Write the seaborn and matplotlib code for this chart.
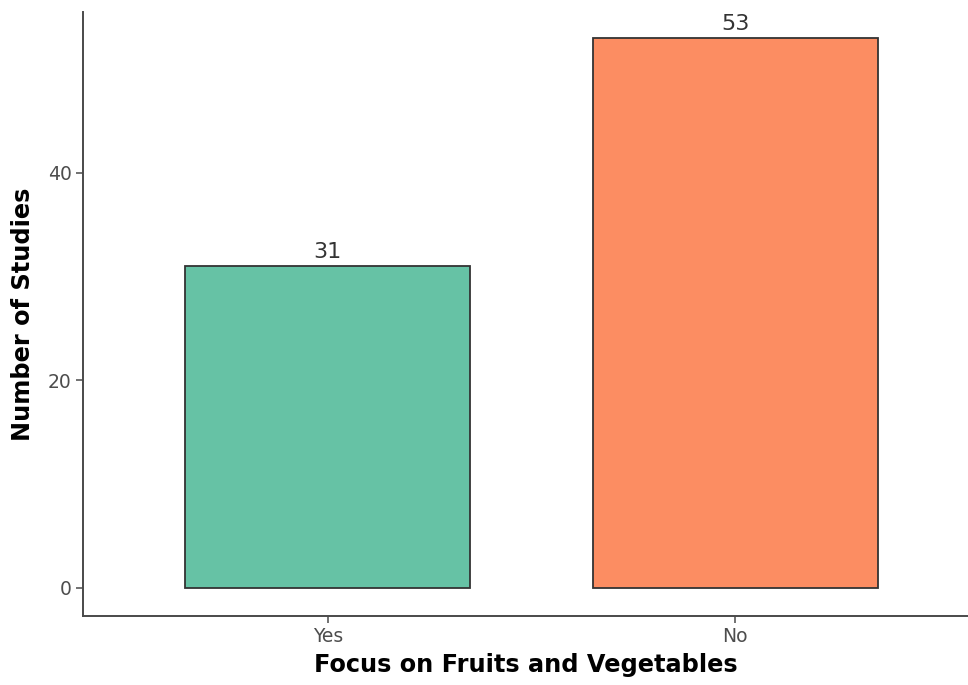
import matplotlib
matplotlib.use("Agg")
import matplotlib.pyplot as plt
import seaborn as sns
import pandas as pd

# Study counts by whether the intervention focused on fruits and vegetables
categories = ["Yes", "No"]
counts = [31, 53]
bar_colors = ["#66c2a5", "#fc8d62"]

df = pd.DataFrame({"focus": categories, "n": counts})

sns.set_theme(style="white")
plt.rcParams["font.family"] = ["DejaVu Sans"]

fig = plt.figure(figsize=(9.68, 6.85), dpi=100)
ax = fig.add_axes([0.0857, 0.1007, 0.9143, 0.8818])

sns.barplot(data=df, x="focus", y="n", hue="focus", palette=bar_colors,
            order=categories, width=0.7, edgecolor="#333333", linewidth=1.3,
            legend=False, ax=ax, saturation=1)

for i, v in enumerate(counts):
    ax.text(i, v + 0.4, str(v), ha="center", va="bottom", fontsize=16,
            color="#333333")

ax.set_xlim(-0.601, 1.571)
ax.set_ylim(-2.7, 55.5)
ax.set_yticks([0, 20, 40])

for side in ["top", "right"]:
    ax.spines[side].set_visible(False)
for side in ["left", "bottom"]:
    ax.spines[side].set_color("#4a4a4a")
    ax.spines[side].set_linewidth(1.4)

ax.tick_params(axis="both", which="both", length=5, width=1.1, color="#4a4a4a",
               labelsize=13.5, labelcolor="#4d4d4d", left=True, bottom=True, pad=3)

ax.set_xlabel("Focus on Fruits and Vegetables", fontsize=17.3, fontweight="bold",
              color="black", labelpad=5)
ax.set_ylabel("Number of Studies", fontsize=17.3, fontweight="bold",
              color="black", labelpad=9)

fig.savefig("out.png", dpi=100)
